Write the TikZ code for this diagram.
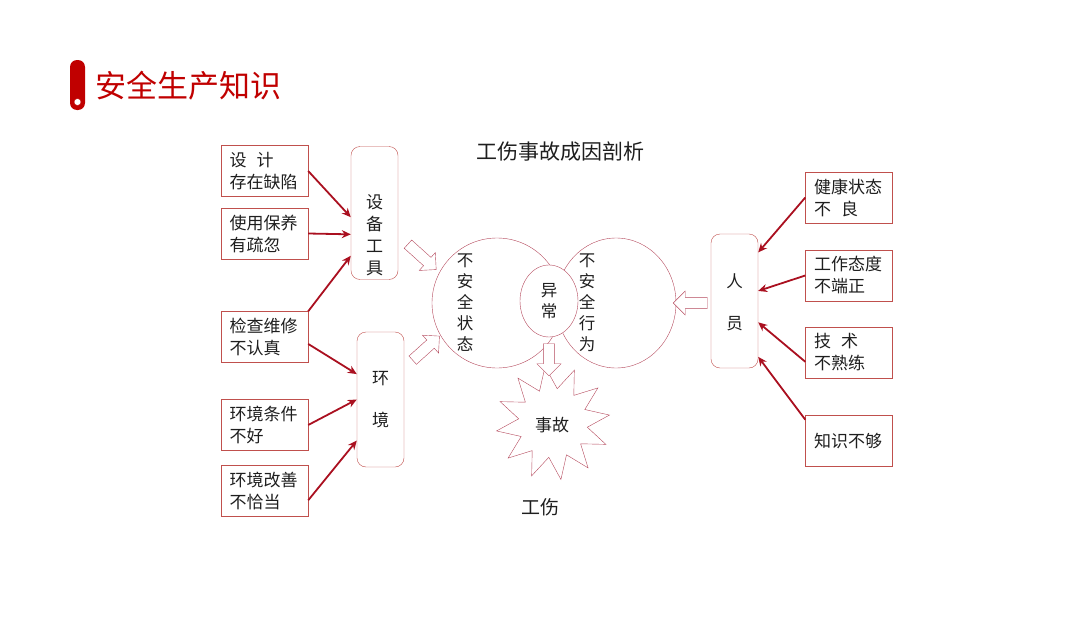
\documentclass[tikz,border=0pt]{standalone}
\usepackage{fontspec}
\setmainfont{Noto Sans CJK SC}
\usepackage{xcolor}
\usetikzlibrary{positioning, shapes.geometric, shapes.arrows, arrows.meta}
\definecolor{titlered}{RGB}{192,0,0}
\definecolor{linkred}{RGB}{170,16,32}
\definecolor{boxred}{RGB}{192,80,77}
\definecolor{ringred}{RGB}{180,72,92}
\definecolor{ink}{RGB}{30,30,30}

\begin{document}
\begin{tikzpicture}[x=1pt, y=-1pt, >={Stealth[length=9pt, width=8pt]}, text=ink,
  font=\fontsize{17}{22}\selectfont,
  cause/.style={draw=boxred, rectangle, minimum height=51pt, text width=70pt,
    inner xsep=8.5pt, align=left},
  group/.style={draw=boxred, rounded corners=9pt, minimum width=47pt},
  link/.style={->, color=linkred, line width=1.8pt},
  hollow/.style={single arrow, draw=ringred, fill=white, inner sep=5pt,
    minimum width=24pt, single arrow head extend=6pt},
  vtext/.style={align=center, inner sep=0pt, font=\fontsize{16.5}{21}\selectfont}]
\useasboundingbox (0,0) rectangle (1080,621);

% Titel
\fill[titlered, rounded corners=7pt] (70,60) rectangle (85,110);
\filldraw[fill=white, draw=titlered] (77.5,102) circle (3.5);
\node[anchor=west, inner sep=0pt, text=titlered, font=\fontsize{31}{36}\selectfont]
  (title) at (95,86) {安全生产知识};
\node[font=\fontsize{21}{24}\selectfont] (head) at (560,152) {工伤事故成因剖析};

% Ursachen links
\node[cause] (design) at (264.5,171) {设\hspace{0.6em}计\\存在缺陷};
\node[cause] (care) at (264.5,233.5) {使用保养\\有疏忽};
\node[cause] (check) at (264.5,337) {检查维修\\不认真};
\node[cause] (cond) at (264.5,425) {环境条件\\不好};
\node[cause] (improve) at (264.5,491) {环境改善\\不恰当};

% Gruppen
\node[group, minimum height=133pt] (tools) at (374.5,213) {};
\node[vtext, font=\fontsize{17}{22}\selectfont] (toolstext) at (374.5,235) {设\\备\\工\\具};
\node[group, minimum height=135pt] (env) at (380.5,399.5) {};
\node[vtext, font=\fontsize{17}{22}\selectfont] (envtext) at (380.5,400) {环\\[20pt]境};
\node[group, minimum height=134pt] (staff) at (734.5,301) {};
\node[vtext] (stafftext) at (734.5,302) {人\\[21pt]员};

% Ursachen rechts
\node[cause] (health) at (849,197.5) {健康状态\\不\hspace{0.6em}良};
\node[cause] (attitude) at (849,275.5) {工作态度\\不端正};
\node[cause] (skill) at (849,352.5) {技\hspace{0.6em}术\\不熟练};
\node[cause] (know) at (849,441) {知识不够};

% Kreise
\node[circle, draw=ringred, minimum size=130pt] (state) at (497,303) {};
\node[ellipse, draw=ringred, minimum width=120pt, minimum height=130pt] (act) at (616,303) {};
\node[ellipse, draw=ringred, fill=white, minimum width=58pt, minimum height=72pt,
  vtext] (abnormal) at (549,301) {异\\常};
\node[vtext] (statetext) at (465,303) {不\\安\\全\\状\\态};
\node[vtext] (acttext) at (587,303) {不\\安\\全\\行\\为};

% Unfall
\node[star, star points=12, star point ratio=1.65, draw=ringred, minimum size=114pt,
  inner sep=0pt, rotate=8] (accident) at (553,423) {};
\node (accidenttext) at (552,425) {事故};
\node[font=\fontsize{19}{22}\selectfont] (injury) at (540,507) {工伤};

% Hohlpfeile
\node[hollow, minimum height=38pt, rotate=-42] (h1) at (420,255) {};
\node[hollow, minimum height=36pt, rotate=42] (h2) at (424,350) {};
\node[hollow, minimum height=34pt, rotate=180] (h3) at (693,303) {};
\node[hollow, minimum height=32pt, rotate=-90] (h4) at (549,357) {};

% Verbindungen
\path[link]
(design.east) edge (tools.190)
(care.east) edge (tools.222)
(check.north east) edge (tools.241)
(check.351) edge (env.133)
(cond.east) edge (env.west)
(improve.348) edge (env.240)
(health.west) edge (staff.64)
(attitude.west) edge (staff.23)
(skill.192) edge (staff.318)
(know.154) edge (staff.293);
\end{tikzpicture}
\end{document}
